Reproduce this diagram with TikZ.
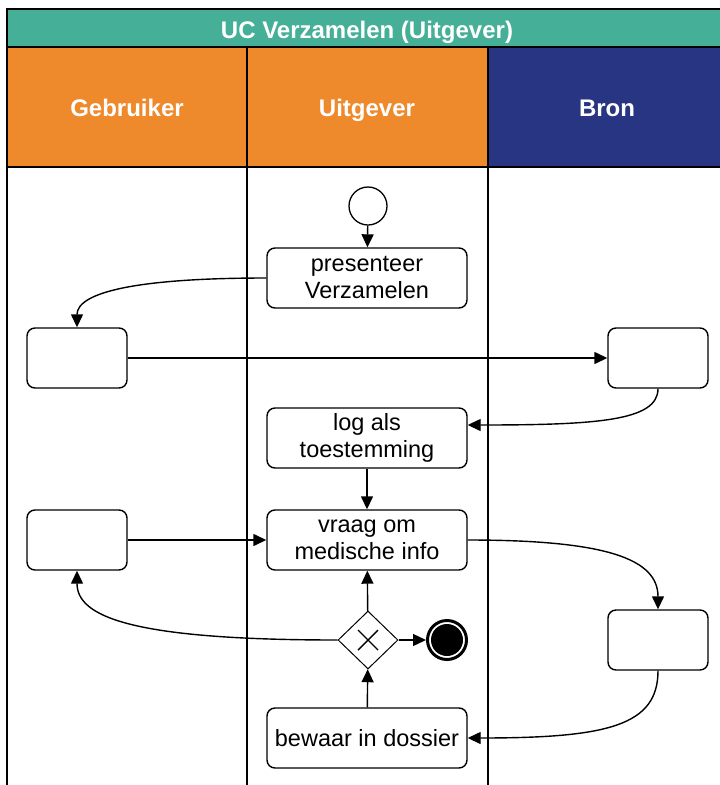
\documentclass[tikz,border=0pt]{standalone}
\usepackage{fontspec}
\setmainfont{Liberation Sans}
\usetikzlibrary{arrows.meta,shapes.geometric}
\definecolor{titleteal}{HTML}{46AF98}
\definecolor{laneorange}{HTML}{EE8A2C}
\definecolor{lanenavy}{HTML}{283583}
\begin{document}
\begin{tikzpicture}[x=1pt,y=-1pt,
  border/.style={line width=1.6pt},
  task/.style={draw, line width=1.4pt, rounded corners=8pt, minimum width=200pt,
    minimum height=60pt, align=center, inner sep=0pt,
    font=\fontsize{23.5}{27}\selectfont},
  blank/.style={draw, line width=1.4pt, rounded corners=8pt, minimum width=100pt,
    minimum height=60pt, inner sep=0pt},
  flow/.style={line width=1.4pt, -{Triangle[length=13pt,width=12pt]}},
  hdr/.style={text=white, anchor=base, inner sep=0pt, font=\bfseries\fontsize{24}{28}\selectfont}
]
\useasboundingbox (0,0) rectangle (720,785);

% pool title and lane headers
\fill[titleteal] (7,9) rectangle (722,47);
\fill[laneorange] (7,47) rectangle (488,167);
\fill[lanenavy] (488,47) rectangle (722,167);
\node[hdr] (pool) at (367,38) {UC Verzamelen (Uitgever)};
\node[hdr] (hgeb) at (127,116) {Gebruiker};
\node[hdr] (huit) at (367,116) {Uitgever};
\node[hdr] (hbron) at (607,116) {Bron};

% pool borders and lane separators
\draw[border] (722,9) -- (7,9) -- (7,785);
\draw[border] (7,47) -- (722,47);
\draw[border] (7,167) -- (722,167);
\draw[border] (247,47) -- (247,785);
\draw[border] (488,47) -- (488,785);

% events, tasks and gateway
\node[circle, draw, line width=1.3pt, minimum size=38pt, inner sep=0pt, fill=white] (start) at (368,206) {};
\node[task, fill=white] (pres) at (367,278) {presenteer\\Verzamelen};
\node[blank, fill=white] (geb1) at (77,358) {};
\node[blank, fill=white] (bron1) at (658,358) {};
\node[task, fill=white] (log) at (367,438) {log als\\toestemming};
\node[blank, fill=white] (geb2) at (77,540) {};
\node[task, fill=white] (vraag) at (367,540) {vraag om\\medische info};
\node[blank, fill=white] (bron2) at (658,640) {};
\node[diamond, draw, line width=1pt, minimum width=60pt, minimum height=58pt, inner sep=0pt, fill=white] (gw) at (368,640) {};
\draw[line width=1.4pt] ([shift={(-10,-10)}]gw.center) -- ([shift={(10,10)}]gw.center)
  ([shift={(-10,10)}]gw.center) -- ([shift={(10,-10)}]gw.center);
\node[circle, draw, line width=3pt, minimum size=39pt, inner sep=0pt, fill=white] (end) at (447,640) {};
\fill (end.center) circle (16pt);
\node[task, fill=white] (bewaar) at (367,738) {bewaar in dossier};

% sequence flows
\draw[flow] (start) -- (pres);
\draw[flow] (pres.west) .. controls +(-130,0) and +(0,-35) .. (geb1.north);
\draw[flow] (geb1.east) -- (bron1.west);
\draw[flow] (bron1.south) .. controls +(0,32) and +(130,0) .. ([yshift=13pt]log.east);
\draw[flow] (log) -- (vraag);
\draw[flow] (geb2.east) -- (vraag.west);
\draw[flow] (vraag.east) .. controls +(140,0) and +(0,-50) .. (bron2.north);
\draw[flow] (bron2.south) .. controls +(0,55) and +(140,0) .. (bewaar.east);
\draw[flow] (bewaar) -- (gw);
\draw[flow] (gw) -- (vraag);
\draw[flow] (gw) -- (end);
\draw[flow] (gw.west) .. controls +(-210,0) and +(0,45) .. (geb2.south);
\end{tikzpicture}
\end{document}
